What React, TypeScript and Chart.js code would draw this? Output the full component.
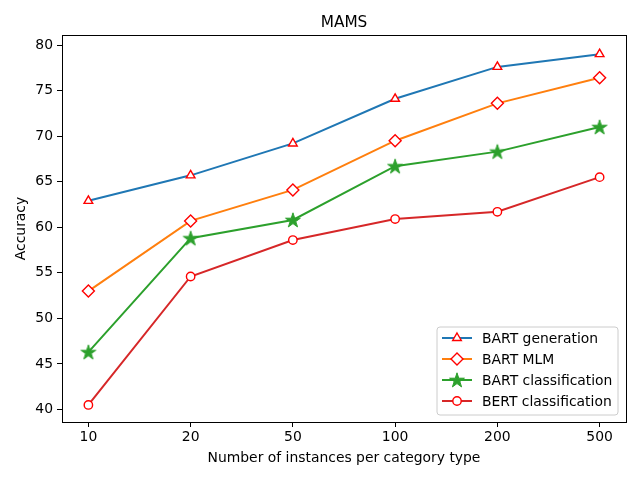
import React, { useEffect, useRef } from 'react';
import { Chart, registerables } from 'chart.js';

Chart.register(...registerables);

const categories = ['10', '20', '50', '100', '200', '500'];
const bartGeneration = [62.9, 65.7, 69.2, 74.1, 77.6, 79.0];
const bartMlm = [53.0, 60.7, 64.1, 69.5, 73.6, 76.4];
const bartClassification = [46.3, 58.8, 60.8, 66.7, 68.3, 71.0];
const bertClassification = [40.5, 54.6, 58.6, 60.9, 61.7, 65.5];
const yTicks = [40, 45, 50, 55, 60, 65, 70, 75, 80];

const FONT = '"DejaVu Sans", sans-serif';

const starPoints = (cx: number, cy: number, r: number) => {
  const pts: [number, number][] = [];
  const inner = r * 0.382;
  for (let i = 0; i < 10; i++) {
    const a = (Math.PI / 5) * i - Math.PI / 2;
    const rr = i % 2 === 0 ? r : inner;
    pts.push([cx + Math.cos(a) * rr, cy + Math.sin(a) * rr]);
  }
  return pts;
};

const makeStar = (color: string) => {
  const c = document.createElement('canvas');
  c.width = 18;
  c.height = 18;
  const ctx = c.getContext('2d')!;
  ctx.beginPath();
  starPoints(9, 9.6, 7.8).forEach(([x, y], i) => (i ? ctx.lineTo(x, y) : ctx.moveTo(x, y)));
  ctx.closePath();
  ctx.fillStyle = color;
  ctx.fill();
  ctx.strokeStyle = color;
  ctx.lineWidth = 1;
  ctx.stroke();
  return c;
};

const toPoints = (vals: number[]) => vals.map((y, x) => ({ x, y }));

const drawMarker = (ctx: CanvasRenderingContext2D, kind: string, x: number, y: number, star?: HTMLCanvasElement) => {
  ctx.save();
  ctx.lineWidth = 1.4;
  ctx.strokeStyle = '#ff0000';
  ctx.fillStyle = '#ffffff';
  ctx.beginPath();
  if (kind === 'triangle') {
    const r = 5;
    ctx.moveTo(x, y - r);
    ctx.lineTo(x + Math.sin((2 * Math.PI) / 3) * r, y + r / 2);
    ctx.lineTo(x - Math.sin((2 * Math.PI) / 3) * r, y + r / 2);
    ctx.closePath();
  } else if (kind === 'diamond') {
    const r = 6;
    ctx.moveTo(x - r, y);
    ctx.lineTo(x, y - r);
    ctx.lineTo(x + r, y);
    ctx.lineTo(x, y + r);
    ctx.closePath();
  } else if (kind === 'circle') {
    ctx.arc(x, y, 4.2, 0, Math.PI * 2);
  } else if (star) {
    ctx.drawImage(star, x - star.width / 2, y - star.height / 2);
    ctx.restore();
    return;
  }
  ctx.fill();
  ctx.stroke();
  ctx.restore();
};

const App: React.FC = () => {
  const chartRef = useRef<HTMLCanvasElement>(null);
  const chartInstance = useRef<Chart>();

  useEffect(() => {
    document.body.style.margin = '0';
    if (!chartRef.current) return;
    const star = makeStar('#2ca02c');

    const series = [
      { label: 'BART generation', data: bartGeneration, color: '#1f77b4', kind: 'triangle' },
      { label: 'BART MLM', data: bartMlm, color: '#ff7f0e', kind: 'diamond' },
      { label: 'BART classification', data: bartClassification, color: '#2ca02c', kind: 'star' },
      { label: 'BERT classification', data: bertClassification, color: '#d62728', kind: 'circle' },
    ];

    const pointOpts = (kind: string) => {
      if (kind === 'star') return { pointStyle: star as any, pointRadius: 8 };
      if (kind === 'triangle') return { pointStyle: 'triangle', pointRadius: 5 };
      if (kind === 'diamond') return { pointStyle: 'rectRot', pointRadius: 6 };
      return { pointStyle: 'circle', pointRadius: 4.2 };
    };

    const decor = {
      id: 'decor',
      afterDatasetsDraw(chart: Chart) {
        const { ctx, chartArea: a } = chart;
        ctx.save();
        ctx.strokeStyle = '#000';
        ctx.lineWidth = 1;
        ctx.strokeRect(Math.round(a.left) + 0.5, Math.round(a.top) + 0.5, Math.round(a.right - a.left), Math.round(a.bottom - a.top));

        ctx.fillStyle = '#000';
        ctx.textAlign = 'center';
        ctx.textBaseline = 'alphabetic';
        ctx.font = `15.3px ${FONT}`;
        ctx.fillText('MAMS', (a.left + a.right) / 2, 27);
        ctx.font = `13.9px ${FONT}`;
        ctx.fillText('Number of instances per category type', (a.left + a.right) / 2, 462);
        ctx.save();
        ctx.translate(25, (a.top + a.bottom) / 2);
        ctx.rotate(-Math.PI / 2);
        ctx.fillText('Accuracy', 0, 0);
        ctx.restore();

        // legend
        ctx.textBaseline = 'middle';
        const bx = 437, by = 327, bw = 181, bh = 88, rr = 3;
        ctx.beginPath();
        ctx.moveTo(bx + rr, by);
        ctx.arcTo(bx + bw, by, bx + bw, by + bh, rr);
        ctx.arcTo(bx + bw, by + bh, bx, by + bh, rr);
        ctx.arcTo(bx, by + bh, bx, by, rr);
        ctx.arcTo(bx, by, bx + bw, by, rr);
        ctx.closePath();
        ctx.fillStyle = 'rgba(255,255,255,0.8)';
        ctx.fill();
        ctx.strokeStyle = '#cccccc';
        ctx.stroke();

        series.forEach((s, i) => {
          const y = 338 + i * 21;
          ctx.beginPath();
          ctx.moveTo(442, y);
          ctx.lineTo(472, y);
          ctx.strokeStyle = s.color;
          ctx.lineWidth = 2;
          ctx.stroke();
          drawMarker(ctx, s.kind, 457, y, star);
          ctx.fillStyle = '#000';
          ctx.textAlign = 'left';
          ctx.font = `13.9px ${FONT}`;
          ctx.fillText(s.label, 482, y + 1);
        });
        ctx.restore();
      },
    };

    chartInstance.current = new Chart(chartRef.current, {
      type: 'line',
      data: {
        datasets: series.map((s, i) => ({
          label: s.label,
          data: toPoints(s.data),
          borderColor: s.color,
          borderWidth: 2,
          backgroundColor: s.kind === 'star' ? s.color : '#ffffff',
          pointBackgroundColor: s.kind === 'star' ? s.color : '#ffffff',
          pointBorderColor: s.kind === 'star' ? s.color : '#ff0000',
          pointBorderWidth: 1.4,
          pointHoverRadius: 0,
          ...pointOpts(s.kind),
          tension: 0,
          order: 3 - i,
        })) as any,
      },
      options: {
        animation: false,
        responsive: false,
        layout: { padding: { left: 0, right: 14, top: 35, bottom: 0 } },
        plugins: { legend: { display: false }, tooltip: { enabled: false }, title: { display: false } },
        scales: {
          x: {
            type: 'linear',
            min: -0.258,
            max: 5.258,
            afterBuildTicks: (scale: any) => {
              scale.ticks = categories.map((_, i) => ({ value: i }));
            },
            afterFit: (scale: any) => {
              scale.height = 58;
            },
            ticks: {
              callback: (v: any) => categories[v as number] ?? '',
              color: '#000',
              font: { family: FONT, size: 13.9 },
              padding: 2,
              maxRotation: 0,
              autoSkip: false,
            },
            grid: { drawOnChartArea: false, drawTicks: true, tickLength: 5, color: '#000' },
            border: { display: false },
          },
          y: {
            min: 38.63,
            max: 81.1,
            afterBuildTicks: (scale: any) => {
              scale.ticks = yTicks.map((v) => ({ value: v }));
            },
            afterFit: (scale: any) => {
              scale.width = 62;
            },
            ticks: {
              color: '#000',
              font: { family: FONT, size: 13.9 },
              padding: 4,
            },
            grid: { drawOnChartArea: false, drawTicks: true, tickLength: 5, color: '#000' },
            border: { display: false },
          },
        },
      },
      plugins: [decor],
    });

    return () => {
      if (chartInstance.current) {
        chartInstance.current.destroy();
      }
    };
  }, []);

  return <canvas ref={chartRef} width={640} height={480} style={{ display: 'block' }} />;
};

export default App;
